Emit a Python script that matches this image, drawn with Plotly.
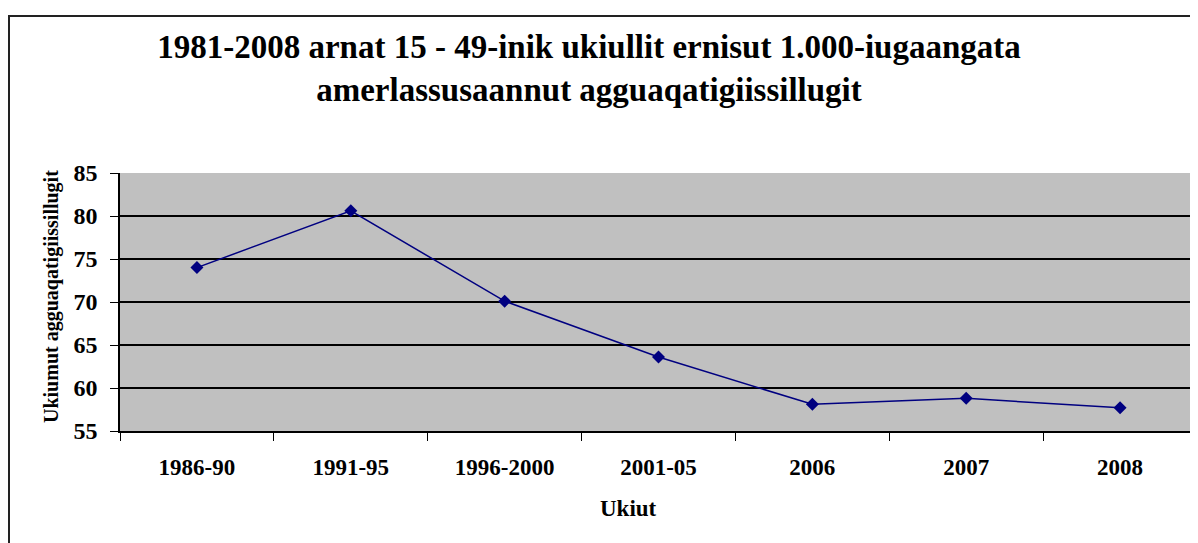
import plotly.graph_objects as go

periods = ["1986-90", "1991-95", "1996-2000", "2001-05", "2006", "2007", "2008"]
rates = [74.0, 80.6, 70.1, 63.6, 58.1, 58.8, 57.7]
y_ticks = [55, 60, 65, 70, 75, 80, 85]

title_text = ("1981-2008 arnat 15 - 49-inik ukiullit ernisut 1.000-iugaangata<br>"
              "amerlassusaannut agguaqatigiissillugit")
x_title = "Ukiut"
y_title = "Ukiumut agguaqatigiissillugit"

font = "Liberation Serif, Times New Roman, serif"

# page body adds 8px, so figure is 1190x535
W, H = 1190, 535
L, T, R, B = 112, 165, 1, 112
PW, PH = W - L - R, H - T - B


def main():
    fig = go.Figure()
    fig.add_trace(
        go.Scatter(
            x=periods,
            y=rates,
            mode="lines+markers",
            line=dict(color="#000080", width=1.5),
            marker=dict(symbol="diamond", size=10, color="#000080"),
            showlegend=False,
        )
    )

    fig.update_layout(
        width=W,
        height=H,
        margin=dict(l=L, r=R, t=T, b=B),
        paper_bgcolor="white",
        plot_bgcolor="#C0C0C0",
        font=dict(family=font, color="black"),
        title=dict(
            text="<b>" + title_text + "</b>",
            x=581 / W,
            xanchor="center",
            y=1 - 50 / H,
            yanchor="middle",
            xref="container",
            yref="container",
            font=dict(size=33, family=font),
        ),
    )

    fig.update_xaxes(
        type="category",
        tickson="boundaries",
        ticks="outside",
        ticklen=8,
        tickcolor="black",
        showgrid=False,
        showline=True,
        linecolor="black",
        linewidth=2,
        tickfont=dict(size=23, family=font),
        ticklabelstandoff=14,
        range=[-0.5, 6.5],
        tickvals=periods,
        ticktext=["<b>%s</b>" % p for p in periods],
    )
    fig.update_yaxes(
        range=[55, 85],
        ticks="outside",
        ticklen=8,
        tickcolor="black",
        showgrid=True,
        gridcolor="black",
        gridwidth=1.5,
        showline=True,
        linecolor="black",
        linewidth=1.5,
        zeroline=False,
        tickfont=dict(size=24, family=font),
        ticklabelstandoff=8,
        tickvals=y_ticks,
        ticktext=["<b>%d</b>" % v for v in y_ticks],
    )

    fig.add_annotation(
        text="<b>" + x_title + "</b>",
        x=(620 - L) / PW,
        y=-(500 - (T + PH)) / PH,
        xref="paper",
        yref="paper",
        xanchor="center",
        yanchor="middle",
        showarrow=False,
        font=dict(size=23, family=font),
    )
    fig.add_annotation(
        text="<b>" + y_title + "</b>",
        x=(43 - L) / PW,
        y=1 - (289 - T) / PH,
        xref="paper",
        yref="paper",
        xanchor="center",
        yanchor="middle",
        textangle=-90,
        showarrow=False,
        font=dict(size=20, family=font),
    )

    # outer chart frame, cut off at right and bottom
    fig.add_shape(
        type="rect",
        xref="paper",
        yref="paper",
        x0=(1 - L) / PW,
        y0=-1,
        x1=1.2,
        y1=1 + (T - 8) / PH,
        line=dict(color="#222222", width=2),
        layer="below",
    )

    fig.write_html("out.html")


if __name__ == "__main__":
    main()
